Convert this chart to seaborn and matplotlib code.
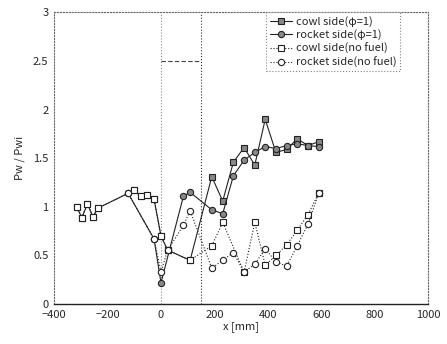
import pandas as pd
import matplotlib
matplotlib.use("Agg")
import matplotlib.pyplot as plt
import seaborn as sns

# valores
x_cowl = [-316, -296, -275, -255, -234, -100, -76, -51, -26, 0, 25, 109, 190, 231, 271, 311, 351, 390, 430, 470, 510, 550, 590]
y_cowl_fuel = [1.00, 0.89, 1.03, 0.90, 0.99, 1.17, 1.11, 1.12, 1.08, 0.70, 0.555, 0.45, 1.31, 1.06, 1.46, 1.61, 1.43, 1.90, 1.56, 1.59, 1.70, 1.63, 1.67]

x_rocket = [-124, -26, 0, 84, 109, 190, 231, 271, 311, 351, 390, 430, 470, 510, 550, 590]
y_rocket_fuel = [1.145, 0.67, 0.22, 1.11, 1.15, 0.97, 0.93, 1.32, 1.48, 1.56, 1.62, 1.60, 1.63, 1.65, 1.63, 1.62]

x_cowl_nf = [-316, -296, -275, -255, -234, -100, -76, -51, -26, 0, 25, 109, 190, 231, 311, 351, 390, 430, 470, 510, 550, 590]
y_cowl_nf = [1.00, 0.89, 1.03, 0.90, 0.99, 1.17, 1.11, 1.12, 1.08, 0.70, 0.555, 0.45, 0.60, 0.84, 0.33, 0.84, 0.40, 0.50, 0.61, 0.76, 0.92, 1.14]

x_rocket_nf = [-124, -26, 0, 25, 84, 109, 190, 231, 271, 311, 351, 390, 430, 470, 510, 550, 590]
y_rocket_nf = [1.145, 0.67, 0.33, 0.555, 0.81, 0.96, 0.37, 0.45, 0.53, 0.33, 0.41, 0.57, 0.435, 0.39, 0.60, 0.82, 1.14]

x_ticks = [-400, -200, 0, 200, 400, 600, 800, 1000]
y_ticks = [0, 0.5, 1, 1.5, 2, 2.5, 3]
y_ticklabels = ["0", "0.5", "1", "1.5", "2", "2.5", "3"]

sns.set_style("white")
plt.rcParams['font.family'] = ['Noto Sans CJK JP', 'DejaVu Sans']

fig = plt.figure(figsize=(4.47, 3.44), dpi=100)
ax = fig.add_axes([0.121, 0.116, 0.837, 0.848])

# lineas de referencia
ax.axvline(0, color="#888888", lw=0.8, ls=":", zorder=0)
ax.axvline(150, color="#333333", lw=0.8, ls=":", zorder=0)
ax.plot([0, 150], [2.5, 2.5], color="#444444", lw=0.8, ls=(0, (4, 2)), zorder=0)

series = [
    (x_cowl, y_cowl_fuel, "cowl side(φ=1)", "s", "#888888", "-"),
    (x_rocket, y_rocket_fuel, "rocket side(φ=1)", "o", "#888888", "-"),
    (x_cowl_nf, y_cowl_nf, "cowl side(no fuel)", "s", "white", ":"),
    (x_rocket_nf, y_rocket_nf, "rocket side(no fuel)", "o", "white", ":"),
]
for xs, ys, lab, mk, fc, ls in series:
    df = pd.DataFrame({"x": xs, "y": ys})
    sns.lineplot(data=df, x="x", y="y", ax=ax, sort=False, label=lab,
                 color="#222222", lw=0.8, linestyle=ls, marker=mk,
                 markersize=4.5, markerfacecolor=fc, markeredgecolor="#222222",
                 markeredgewidth=0.8)

ax.set_xlim(-400, 1000)
ax.set_ylim(0, 3)
ax.set_xticks(x_ticks)
ax.set_yticks(y_ticks)
ax.set_yticklabels(y_ticklabels)
ax.tick_params(labelsize=8, length=0, pad=4)
ax.set_xlabel("x [mm]", fontsize=8, labelpad=1)
ax.set_ylabel("Pw / Pwi", fontsize=8, labelpad=6)

for side in ["top", "right", "left"]:
    ax.spines[side].set_linestyle(":")
    ax.spines[side].set_color("#666666")
    ax.spines[side].set_linewidth(0.8)
ax.spines["bottom"].set_color("#222222")
ax.spines["bottom"].set_linewidth(1.0)

leg = ax.legend(loc="upper right", bbox_to_anchor=(0.925, 1.0), fontsize=8,
                frameon=True, fancybox=False, borderpad=0.3, labelspacing=0.25,
                handlelength=2.0, handletextpad=0.4, borderaxespad=0.0)
leg.get_frame().set_edgecolor("#666666")
leg.get_frame().set_linestyle(":")
leg.get_frame().set_linewidth(0.8)

fig.savefig("out.png", dpi=100)
